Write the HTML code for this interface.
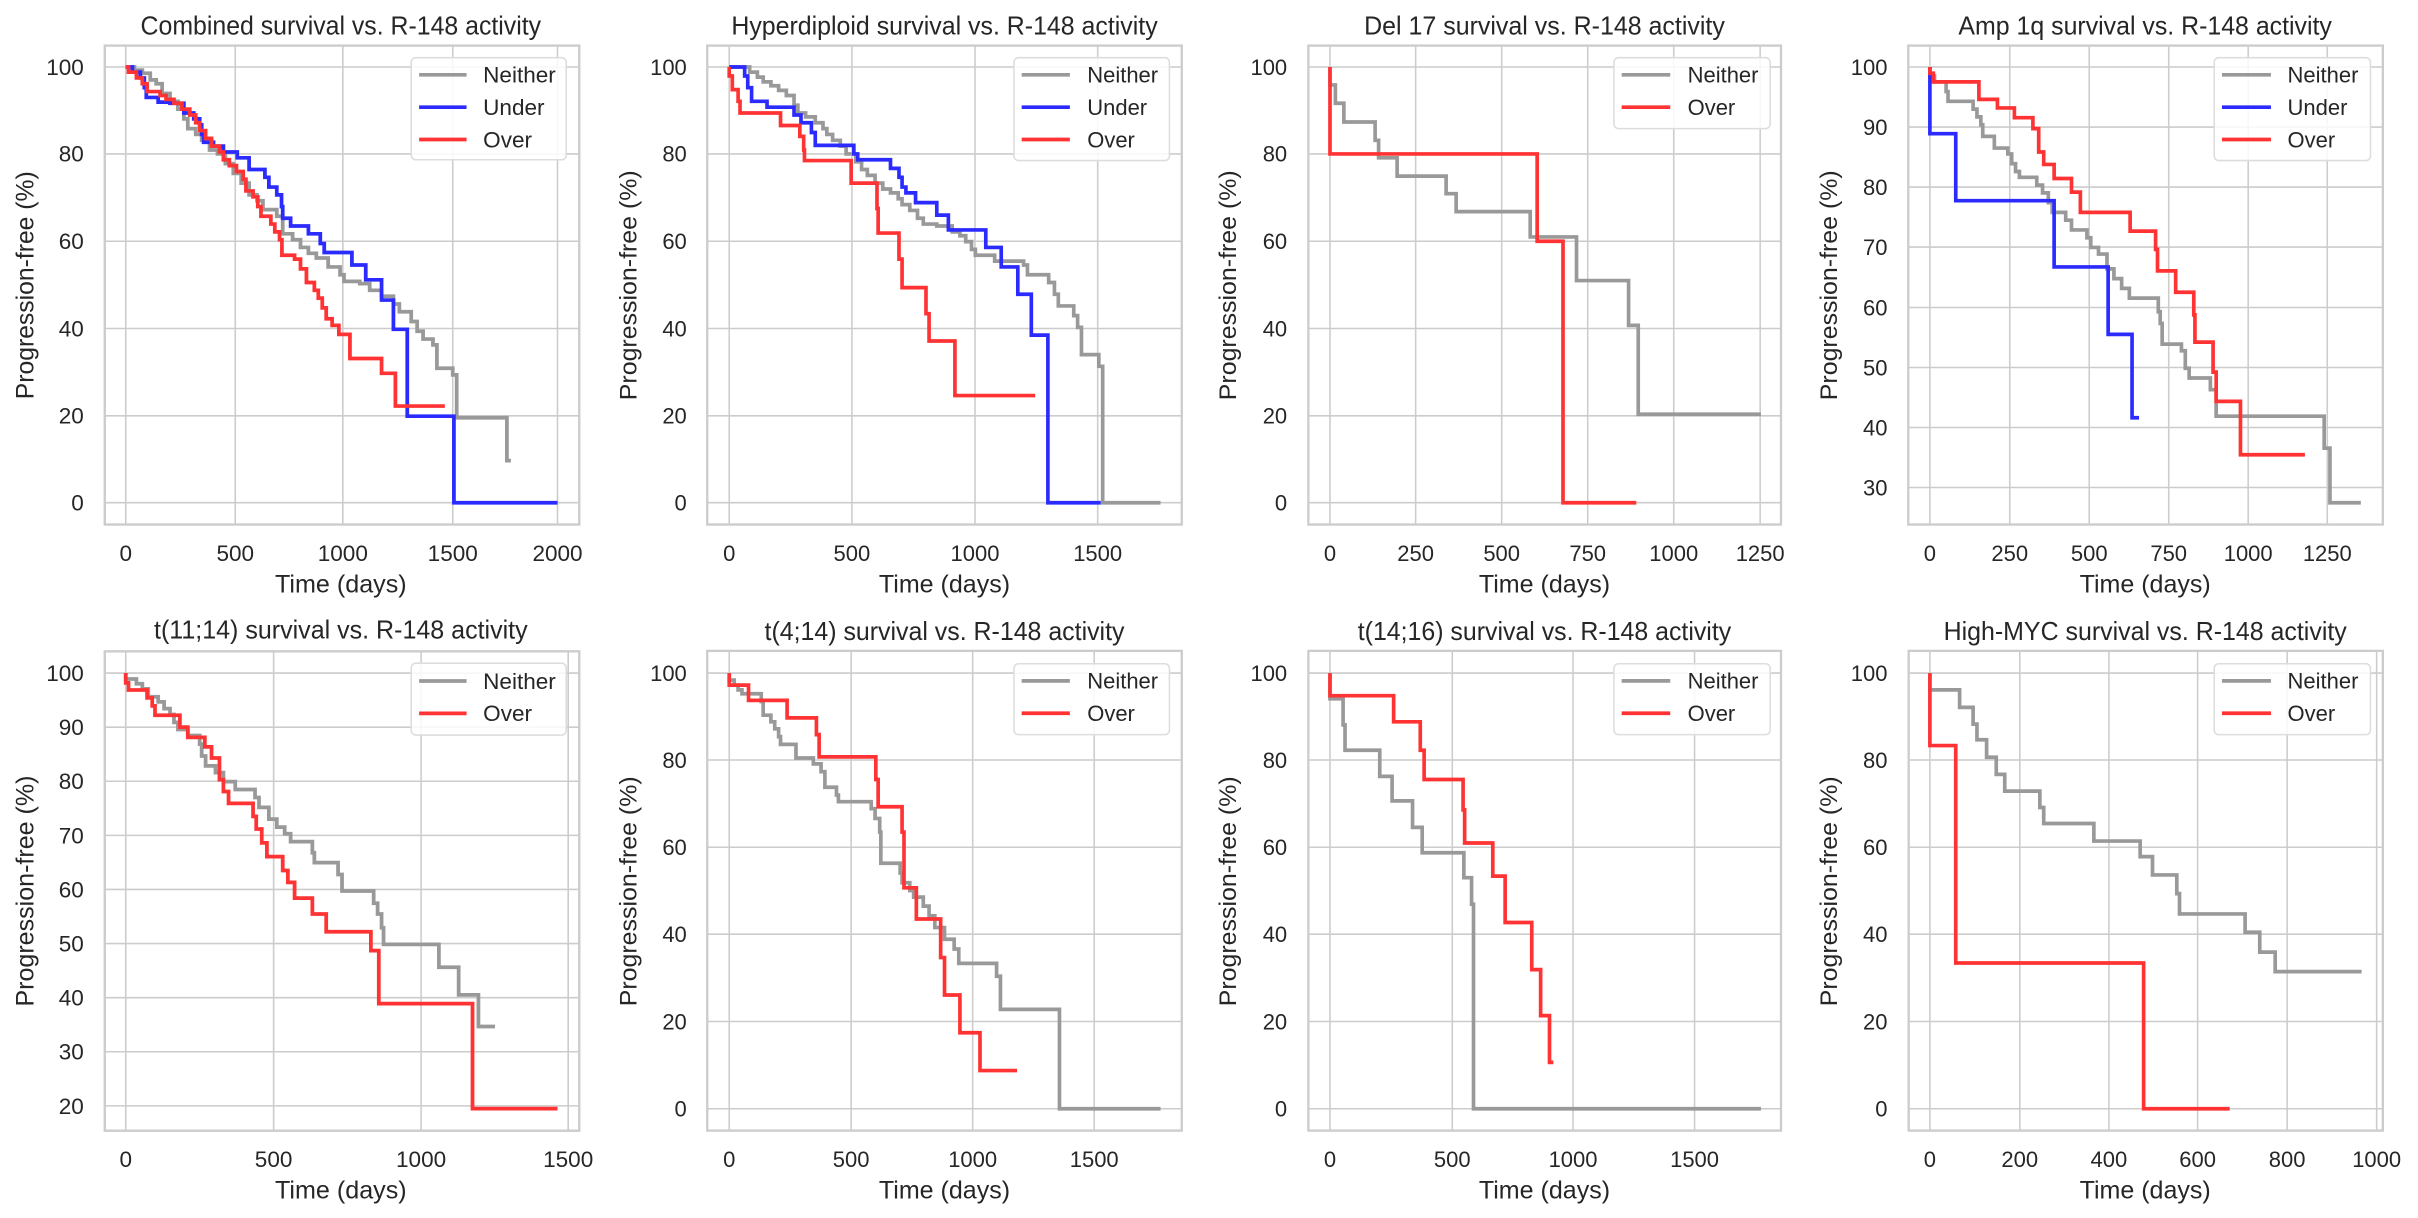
<!DOCTYPE html>
<html><head><meta charset="utf-8"><style>
html,body{margin:0;padding:0;background:#fff;}
svg{display:block;}
text{font-family:"Liberation Sans",Arial,sans-serif;fill:#262626;}
.g{stroke:#cccccc;stroke-width:4;fill:none;}
.bx{stroke:#cccccc;stroke-width:6;fill:none;}
.c{fill:none;stroke-width:9.5;stroke-linejoin:miter;stroke-linecap:butt;}
.n{stroke:#999999;}
.u{stroke:#2b2bff;}
.o{stroke:#ff3333;}
.t{font-size:57px;}
.tt{font-size:66px;}
.l{font-size:63px;}
.lg{fill:rgba(255,255,255,0.85);stroke:#dddddd;stroke-width:4;}
</style></head><body>
<svg width="2418" height="1218" viewBox="0 0 2418 1218" xmlns="http://www.w3.org/2000/svg">
<rect width="2418" height="1218" fill="#fff"/>

<!-- Panel 1 -->
<g transform="translate(0,0) scale(0.3954,0.3897)">
<path class="g" d="M318 117V1346M595 117V1346M867 117V1346M1145 117V1346M1410 117V1346M265 172H1465M265 395H1465M265 619H1465M265 843H1465M265 1067H1465M265 1290H1465"/>
<rect class="bx" x="265" y="117" width="1200" height="1229"/>
<path class="c n" d="M318 172 H340 V180 H360 V188 H380 V205 H395 V215 H410 V240 H430 V260 H450 V280 H465 V305 H475 V330 H495 V345 H510 V360 H530 V385 H550 V395 H570 V420 H590 V445 H610 V470 H630 V500 H650 V515 H665 V538 H700 V555 H715 V600 H740 V615 H760 V635 H780 V650 H800 V662 H830 V685 H860 V705 H870 V722 H910 V728 H935 V745 H965 V760 H995 V780 H1010 V800 H1040 V825 H1055 V850 H1070 V870 H1095 V885 H1105 V945 H1145 V962 H1155 V1072 H1282 V1182 H1292"/>
<path class="c u" d="M318 172 H335 V185 H355 V200 H365 V225 H370 V250 H400 V262 H430 V265 H465 V290 H490 V305 H505 V320 H510 V345 H515 V365 H540 V375 H565 V390 H600 V405 H630 V435 H670 V455 H680 V480 H700 V500 H712 V530 H715 V560 H735 V580 H780 V600 H810 V625 H820 V648 H890 V680 H925 V718 H965 V770 H995 V845 H1030 V1068 H1148 V1290 H1410"/>
<path class="c o" d="M318 172 H325 V185 H345 V200 H360 V215 H372 V235 H405 V245 H420 V255 H440 V265 H460 V280 H480 V295 H495 V315 H505 V335 H520 V355 H535 V375 H555 V390 H565 V410 H580 V425 H598 V440 H615 V460 H622 V490 H640 V505 H652 V530 H660 V555 H685 V575 H695 V595 H707 V615 H713 V655 H745 V665 H760 V690 H775 V725 H795 V745 H805 V765 H815 V790 H825 V818 H840 V835 H857 V858 H885 V920 H965 V958 H1000 V1042 H1125"/>
<rect class="lg" x="1040" y="148" width="392" height="262" rx="12"/>
<path class="c n" d="M1060 192H1180"/><path class="c u" d="M1060 275H1180"/><path class="c o" d="M1060 358H1180"/>
<text class="t" x="1222" y="212">Neither</text><text class="t" x="1222" y="295">Under</text><text class="t" x="1222" y="378">Over</text>
<g class="t" text-anchor="end"><text x="212" y="192">100</text><text x="212" y="415">80</text><text x="212" y="639">60</text><text x="212" y="863">40</text><text x="212" y="1087">20</text><text x="212" y="1310">0</text></g>
<g class="t" text-anchor="middle"><text x="318" y="1440">0</text><text x="595" y="1440">500</text><text x="867" y="1440">1000</text><text x="1145" y="1440">1500</text><text x="1410" y="1440">2000</text></g>
<text class="tt" x="862" y="88" text-anchor="middle" textLength="1013" lengthAdjust="spacingAndGlyphs">Combined survival vs. R-148 activity</text>
<text class="l" x="862" y="1520" text-anchor="middle" textLength="333" lengthAdjust="spacingAndGlyphs">Time (days)</text>
<text class="l" transform="translate(85,732) rotate(-90)" text-anchor="middle" textLength="585" lengthAdjust="spacingAndGlyphs">Progression-free (%)</text>
</g>

<!-- Panel 2 -->
<g transform="translate(605,0) scale(0.3858,0.3897)">
<path class="g" d="M322 117V1346M640 117V1346M959 117V1346M1277 117V1346M265 172H1495M265 395H1495M265 619H1495M265 843H1495M265 1067H1495M265 1290H1495"/>
<rect class="bx" x="265" y="117" width="1230" height="1229"/>
<path class="c n" d="M322 172 H375 V185 H395 V198 H410 V210 H430 V220 H450 V232 H470 V245 H490 V270 H500 V290 H520 V300 H545 V315 H565 V330 H575 V345 H590 V360 H610 V375 H625 V395 H650 V415 H665 V435 H680 V450 H700 V470 H720 V485 H740 V495 H760 V510 H770 V525 H790 V540 H810 V560 H825 V575 H860 V580 H900 V595 H920 V605 H935 V620 H950 V640 H960 V655 H1010 V670 H1085 V680 H1095 V705 H1150 V725 H1165 V755 H1175 V785 H1215 V810 H1225 V840 H1235 V910 H1280 V940 H1290 V1290 H1440"/>
<path class="c u" d="M322 172 H362 V195 H370 V225 H380 V260 H420 V275 H490 V295 H508 V315 H535 V340 H545 V373 H645 V395 H655 V410 H740 V432 H762 V455 H770 V480 H780 V495 H805 V520 H860 V552 H890 V590 H987 V635 H1027 V685 H1070 V755 H1105 V860 H1148 V1290 H1285"/>
<path class="c o" d="M322 172 V195 H330 V230 H345 V260 H350 V290 H455 V322 H505 V350 H515 V385 H517 V412 H638 V470 H705 V535 H708 V598 H762 V665 H770 V738 H832 V805 H840 V875 H907 V1015 H1115"/>
<rect class="lg" x="1060" y="148" width="403" height="264" rx="12"/>
<path class="c n" d="M1080 192H1205"/><path class="c u" d="M1080 275H1205"/><path class="c o" d="M1080 358H1205"/>
<text class="t" x="1250" y="212">Neither</text><text class="t" x="1250" y="295">Under</text><text class="t" x="1250" y="378">Over</text>
<g class="t" text-anchor="end"><text x="212" y="192">100</text><text x="212" y="415">80</text><text x="212" y="639">60</text><text x="212" y="863">40</text><text x="212" y="1087">20</text><text x="212" y="1310">0</text></g>
<g class="t" text-anchor="middle"><text x="322" y="1440">0</text><text x="640" y="1440">500</text><text x="959" y="1440">1000</text><text x="1277" y="1440">1500</text></g>
<text class="tt" x="880" y="88" text-anchor="middle" textLength="1105" lengthAdjust="spacingAndGlyphs">Hyperdiploid survival vs. R-148 activity</text>
<text class="l" x="880" y="1520" text-anchor="middle" textLength="340" lengthAdjust="spacingAndGlyphs">Time (days)</text>
<text class="l" transform="translate(82,732) rotate(-90)" text-anchor="middle" textLength="590" lengthAdjust="spacingAndGlyphs">Progression-free (%)</text>
</g>

<!-- Panel 3 -->
<g transform="translate(1210,0) scale(0.3858,0.3897)">
<path class="g" d="M311 117V1346M533 117V1346M756 117V1346M979 117V1346M1202 117V1346M1426 117V1346M255 172H1480M255 395H1480M255 619H1480M255 843H1480M255 1067H1480M255 1290H1480"/>
<rect class="bx" x="255" y="117" width="1225" height="1229"/>
<path class="c n" d="M311 172 V218 H325 V265 H347 V313 H428 V360 H437 V405 H485 V452 H612 V497 H638 V543 H830 V608 H950 V720 H1085 V835 H1110 V1063 H1428"/>
<path class="c o" d="M311 172 V395 H848 V619 H915 V1290 H1105"/>
<rect class="lg" x="1047" y="148" width="405" height="182" rx="12"/>
<path class="c n" d="M1067 192H1193"/><path class="c o" d="M1067 275H1193"/>
<text class="t" x="1238" y="212">Neither</text><text class="t" x="1238" y="295">Over</text>
<g class="t" text-anchor="end"><text x="200" y="192">100</text><text x="200" y="415">80</text><text x="200" y="639">60</text><text x="200" y="863">40</text><text x="200" y="1087">20</text><text x="200" y="1310">0</text></g>
<g class="t" text-anchor="middle"><text x="311" y="1440">0</text><text x="533" y="1440">250</text><text x="756" y="1440">500</text><text x="979" y="1440">750</text><text x="1202" y="1440">1000</text><text x="1426" y="1440">1250</text></g>
<text class="tt" x="867" y="88" text-anchor="middle" textLength="935" lengthAdjust="spacingAndGlyphs">Del 17 survival vs. R-148 activity</text>
<text class="l" x="867" y="1520" text-anchor="middle" textLength="340" lengthAdjust="spacingAndGlyphs">Time (days)</text>
<text class="l" transform="translate(68,732) rotate(-90)" text-anchor="middle" textLength="590" lengthAdjust="spacingAndGlyphs">Progression-free (%)</text>
</g>

<!-- Panel 4 -->
<g transform="translate(1813,0) scale(0.3858,0.3897)">
<path class="g" d="M303 117V1346M510 117V1346M716 117V1346M922 117V1346M1128 117V1346M1333 117V1346M247 172H1477M247 326H1477M247 480H1477M247 634H1477M247 789H1477M247 943H1477M247 1097H1477M247 1251H1477"/>
<rect class="bx" x="247" y="117" width="1230" height="1229"/>
<path class="c n" d="M303 172 V195 H315 V210 H345 V235 H350 V260 H415 V280 H425 V300 H435 V320 H440 V350 H470 V380 H505 V395 H515 V420 H525 V440 H535 V455 H580 V475 H595 V495 H610 V520 H620 V545 H655 V565 H670 V590 H710 V610 H720 V635 H740 V652 H762 V690 H780 V715 H800 V740 H820 V765 H895 V800 H900 V830 H905 V883 H955 V900 H965 V945 H975 V970 H1030 V1000 H1045 V1068 H1325 V1150 H1340 V1290 H1420"/>
<path class="c u" d="M303 172 V343 H370 V515 H625 V685 H765 V858 H827 V1072 H845"/>
<path class="c o" d="M303 172 V188 H312 V210 H430 V255 H478 V277 H522 V302 H570 V330 H585 V390 H598 V422 H625 V458 H670 V493 H693 V545 H822 V593 H888 V640 H893 V695 H940 V750 H987 V808 H990 V878 H1037 V955 H1045 V1030 H1108 V1167 H1275"/>
<rect class="lg" x="1040" y="148" width="405" height="264" rx="12"/>
<path class="c n" d="M1060 192H1187"/><path class="c u" d="M1060 275H1187"/><path class="c o" d="M1060 358H1187"/>
<text class="t" x="1230" y="212">Neither</text><text class="t" x="1230" y="295">Under</text><text class="t" x="1230" y="378">Over</text>
<g class="t" text-anchor="end"><text x="193" y="192">100</text><text x="193" y="346">90</text><text x="193" y="500">80</text><text x="193" y="654">70</text><text x="193" y="809">60</text><text x="193" y="963">50</text><text x="193" y="1117">40</text><text x="193" y="1271">30</text></g>
<g class="t" text-anchor="middle"><text x="303" y="1440">0</text><text x="510" y="1440">250</text><text x="716" y="1440">500</text><text x="922" y="1440">750</text><text x="1128" y="1440">1000</text><text x="1333" y="1440">1250</text></g>
<text class="tt" x="861" y="88" text-anchor="middle" textLength="968" lengthAdjust="spacingAndGlyphs">Amp 1q survival vs. R-148 activity</text>
<text class="l" x="861" y="1520" text-anchor="middle" textLength="340" lengthAdjust="spacingAndGlyphs">Time (days)</text>
<text class="l" transform="translate(62,732) rotate(-90)" text-anchor="middle" textLength="590" lengthAdjust="spacingAndGlyphs">Progression-free (%)</text>
</g>

<!-- Panel 5 -->
<g transform="translate(0,600) scale(0.3954,0.3949)">
<path class="g" d="M318 130V1344M692 130V1344M1065 130V1344M1437 130V1344M265 185H1465M265 322H1465M265 459H1465M265 596H1465M265 733H1465M265 870H1465M265 1007H1465M265 1144H1465M265 1281H1465"/>
<rect class="bx" x="265" y="130" width="1200" height="1214"/>
<path class="c n" d="M318 185 V200 H345 V212 H360 V225 H375 V245 H400 V258 H415 V275 H430 V290 H440 V310 H450 V328 H475 V343 H505 V365 H510 V395 H520 V420 H545 V437 H565 V460 H595 V480 H645 V500 H655 V525 H680 V555 H700 V575 H720 V592 H735 V612 H790 V640 H795 V665 H855 V695 H865 V737 H945 V768 H955 V795 H965 V830 H970 V872 H1110 V930 H1160 V1000 H1210 V1080 H1252"/>
<path class="c o" d="M318 185 V210 H325 V228 H372 V248 H385 V268 H392 V292 H455 V322 H475 V348 H518 V372 H535 V400 H555 V455 H565 V485 H578 V515 H640 V548 H648 V580 H662 V615 H675 V650 H715 V685 H728 V715 H745 V755 H790 V795 H825 V840 H938 V888 H958 V1022 H1195 V1288 H1410"/>
<rect class="lg" x="1040" y="160" width="392" height="182" rx="12"/>
<path class="c n" d="M1060 205H1180"/><path class="c o" d="M1060 287H1180"/>
<text class="t" x="1222" y="225">Neither</text><text class="t" x="1222" y="307">Over</text>
<g class="t" text-anchor="end"><text x="212" y="205">100</text><text x="212" y="342">90</text><text x="212" y="479">80</text><text x="212" y="616">70</text><text x="212" y="753">60</text><text x="212" y="890">50</text><text x="212" y="1027">40</text><text x="212" y="1164">30</text><text x="212" y="1301">20</text></g>
<g class="t" text-anchor="middle"><text x="318" y="1436">0</text><text x="692" y="1436">500</text><text x="1065" y="1436">1000</text><text x="1437" y="1436">1500</text></g>
<text class="tt" x="862" y="98" text-anchor="middle" textLength="945" lengthAdjust="spacingAndGlyphs">t(11;14) survival vs. R-148 activity</text>
<text class="l" x="862" y="1515" text-anchor="middle" textLength="333" lengthAdjust="spacingAndGlyphs">Time (days)</text>
<text class="l" transform="translate(85,737) rotate(-90)" text-anchor="middle" textLength="585" lengthAdjust="spacingAndGlyphs">Progression-free (%)</text>
</g>

<!-- Panel 6 -->
<g transform="translate(605,608) scale(0.3858,0.3897)">
<path class="g" d="M322 110V1341M638 110V1341M953 110V1341M1268 110V1341M265 167H1495M265 390H1495M265 614H1495M265 837H1495M265 1061H1495M265 1285H1495"/>
<rect class="bx" x="265" y="110" width="1230" height="1231"/>
<path class="c n" d="M322 167 V185 H335 V198 H345 V210 H355 V220 H405 V240 H410 V275 H430 V292 H440 V310 H450 V330 H455 V350 H495 V385 H540 V400 H560 V420 H570 V460 H600 V480 H605 V497 H690 V515 H700 V540 H712 V575 H715 V655 H765 V680 H770 V705 H790 V725 H800 V742 H825 V765 H840 V790 H855 V820 H880 V850 H905 V875 H917 V912 H1015 V945 H1025 V1030 H1178 V1285 H1440"/>
<path class="c o" d="M322 167 V198 H372 V237 H472 V282 H548 V325 H555 V382 H702 V440 H708 V510 H770 V575 H775 V718 H807 V798 H870 V897 H880 V993 H920 V1090 H972 V1187 H1068"/>
<rect class="lg" x="1060" y="143" width="403" height="182" rx="12"/>
<path class="c n" d="M1080 187H1205"/><path class="c o" d="M1080 270H1205"/>
<text class="t" x="1250" y="207">Neither</text><text class="t" x="1250" y="290">Over</text>
<g class="t" text-anchor="end"><text x="212" y="187">100</text><text x="212" y="410">80</text><text x="212" y="634">60</text><text x="212" y="857">40</text><text x="212" y="1081">20</text><text x="212" y="1305">0</text></g>
<g class="t" text-anchor="middle"><text x="322" y="1435">0</text><text x="638" y="1435">500</text><text x="953" y="1435">1000</text><text x="1268" y="1435">1500</text></g>
<text class="tt" x="880" y="82" text-anchor="middle" textLength="933" lengthAdjust="spacingAndGlyphs">t(4;14) survival vs. R-148 activity</text>
<text class="l" x="880" y="1515" text-anchor="middle" textLength="340" lengthAdjust="spacingAndGlyphs">Time (days)</text>
<text class="l" transform="translate(82,727) rotate(-90)" text-anchor="middle" textLength="590" lengthAdjust="spacingAndGlyphs">Progression-free (%)</text>
</g>

<!-- Panel 7 -->
<g transform="translate(1210,608) scale(0.3858,0.3897)">
<path class="g" d="M311 110V1341M628 110V1341M941 110V1341M1256 110V1341M255 167H1480M255 390H1480M255 614H1480M255 837H1480M255 1061H1480M255 1285H1480"/>
<rect class="bx" x="255" y="110" width="1225" height="1231"/>
<path class="c n" d="M311 167 V233 H345 V300 H350 V365 H440 V432 H472 V495 H525 V563 H550 V628 H658 V692 H678 V760 H683 V1285 H1428"/>
<path class="c o" d="M311 167 V225 H476 V292 H545 V365 H555 V440 H656 V518 H660 V603 H733 V688 H765 V807 H834 V928 H857 V1046 H880 V1166 H890"/>
<rect class="lg" x="1047" y="143" width="405" height="182" rx="12"/>
<path class="c n" d="M1067 187H1193"/><path class="c o" d="M1067 270H1193"/>
<text class="t" x="1238" y="207">Neither</text><text class="t" x="1238" y="290">Over</text>
<g class="t" text-anchor="end"><text x="200" y="187">100</text><text x="200" y="410">80</text><text x="200" y="634">60</text><text x="200" y="857">40</text><text x="200" y="1081">20</text><text x="200" y="1305">0</text></g>
<g class="t" text-anchor="middle"><text x="311" y="1435">0</text><text x="628" y="1435">500</text><text x="941" y="1435">1000</text><text x="1256" y="1435">1500</text></g>
<text class="tt" x="867" y="82" text-anchor="middle" textLength="968" lengthAdjust="spacingAndGlyphs">t(14;16) survival vs. R-148 activity</text>
<text class="l" x="867" y="1515" text-anchor="middle" textLength="340" lengthAdjust="spacingAndGlyphs">Time (days)</text>
<text class="l" transform="translate(68,727) rotate(-90)" text-anchor="middle" textLength="590" lengthAdjust="spacingAndGlyphs">Progression-free (%)</text>
</g>

<!-- Panel 8 -->
<g transform="translate(1813,608) scale(0.3858,0.3897)">
<path class="g" d="M303 110V1341M536 110V1341M767 110V1341M997 110V1341M1229 110V1341M1461 110V1341M248 167H1477M248 390H1477M248 614H1477M248 837H1477M248 1061H1477M248 1285H1477"/>
<rect class="bx" x="248" y="110" width="1229" height="1231"/>
<path class="c n" d="M303 167 V210 H380 V255 H415 V298 H425 V338 H450 V383 H475 V427 H497 V470 H588 V512 H598 V553 H728 V598 H848 V638 H880 V685 H943 V733 H950 V785 H1120 V832 H1158 V883 H1198 V933 H1422"/>
<path class="c o" d="M303 167 V353 H370 V911 H857 V1285 H1080"/>
<rect class="lg" x="1040" y="143" width="405" height="182" rx="12"/>
<path class="c n" d="M1060 187H1187"/><path class="c o" d="M1060 270H1187"/>
<text class="t" x="1230" y="207">Neither</text><text class="t" x="1230" y="290">Over</text>
<g class="t" text-anchor="end"><text x="193" y="187">100</text><text x="193" y="410">80</text><text x="193" y="634">60</text><text x="193" y="857">40</text><text x="193" y="1081">20</text><text x="193" y="1305">0</text></g>
<g class="t" text-anchor="middle"><text x="303" y="1435">0</text><text x="536" y="1435">200</text><text x="767" y="1435">400</text><text x="997" y="1435">600</text><text x="1229" y="1435">800</text><text x="1461" y="1435">1000</text></g>
<text class="tt" x="861" y="82" text-anchor="middle" textLength="1045" lengthAdjust="spacingAndGlyphs">High-MYC survival vs. R-148 activity</text>
<text class="l" x="861" y="1515" text-anchor="middle" textLength="340" lengthAdjust="spacingAndGlyphs">Time (days)</text>
<text class="l" transform="translate(62,727) rotate(-90)" text-anchor="middle" textLength="590" lengthAdjust="spacingAndGlyphs">Progression-free (%)</text>
</g>
</svg>
</body></html>
